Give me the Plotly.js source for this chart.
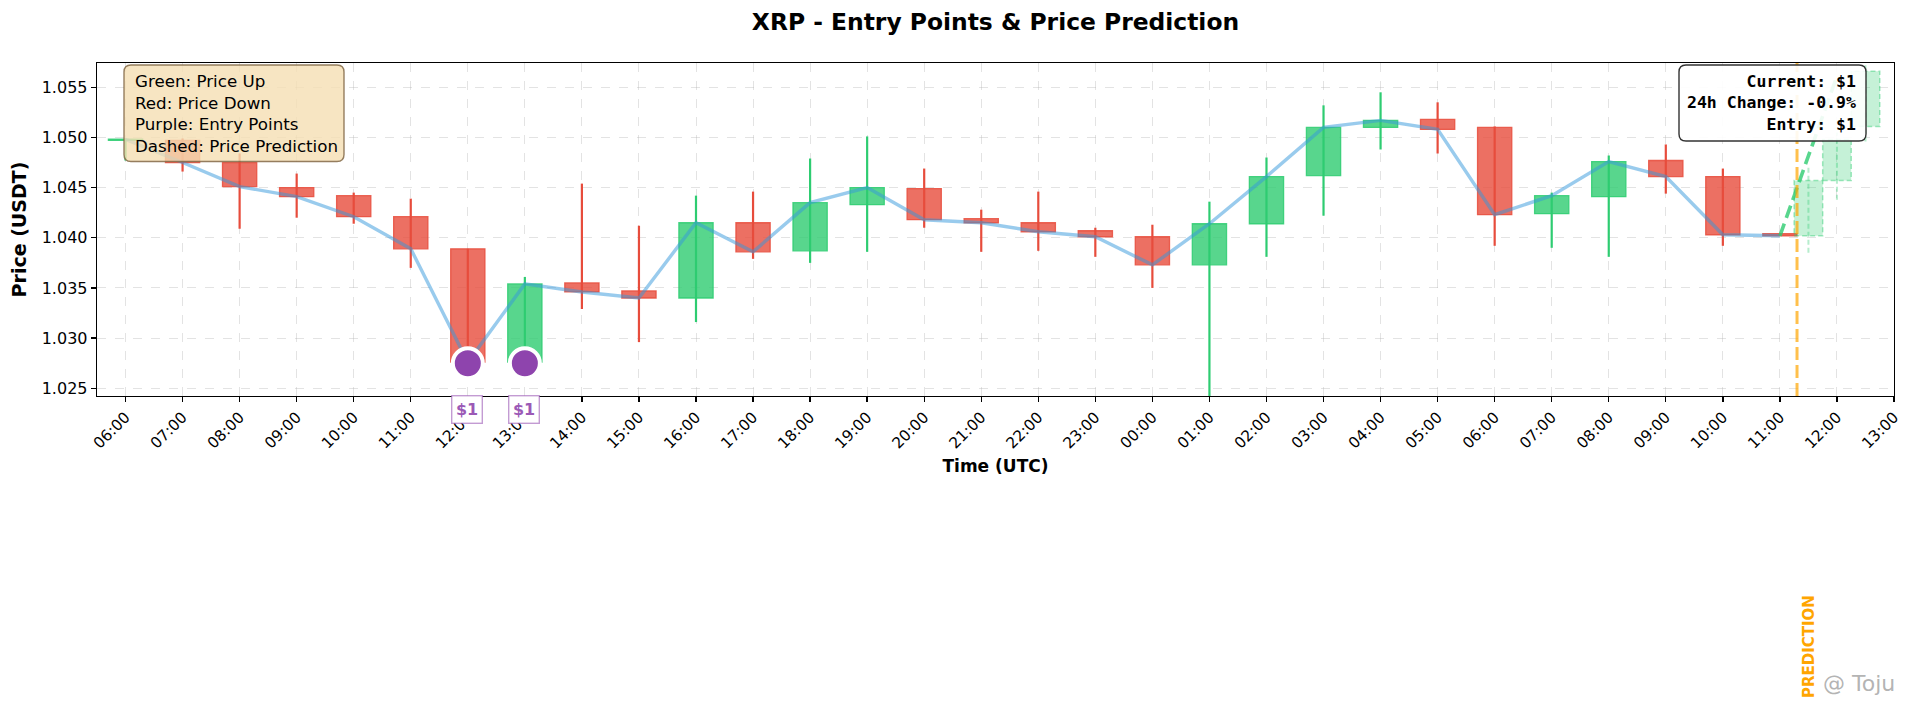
<!DOCTYPE html>
<html>
<head>
<meta charset="utf-8">
<script src="https://cdn.plot.ly/plotly-3.0.1.min.js"></script>
<style>
  html, body { margin: 0; padding: 0; background: #fff; }
  #chart { width: 1905px; height: 708px; }
</style>
</head>
<body>
<div id="chart"></div>
<script>
// hourly candles, 06:00 day 1 -> 11:00 day 2
var times = [
	'2024-01-01 06:00', '2024-01-01 07:00', '2024-01-01 08:00', '2024-01-01 09:00', '2024-01-01 10:00',
	'2024-01-01 11:00', '2024-01-01 12:00', '2024-01-01 13:00', '2024-01-01 14:00', '2024-01-01 15:00',
	'2024-01-01 16:00', '2024-01-01 17:00', '2024-01-01 18:00', '2024-01-01 19:00', '2024-01-01 20:00',
	'2024-01-01 21:00', '2024-01-01 22:00', '2024-01-01 23:00', '2024-01-02 00:00', '2024-01-02 01:00',
	'2024-01-02 02:00', '2024-01-02 03:00', '2024-01-02 04:00', '2024-01-02 05:00', '2024-01-02 06:00',
	'2024-01-02 07:00', '2024-01-02 08:00', '2024-01-02 09:00', '2024-01-02 10:00', '2024-01-02 11:00'
]
var opens  = [1.0497, 1.0497, 1.0475, 1.0450, 1.0442, 1.0421, 1.0389, 1.0276, 1.0355, 1.0347,
              1.0340, 1.0415, 1.0387, 1.0433, 1.0449, 1.0419, 1.0415, 1.0407, 1.0401, 1.0373,
              1.0414, 1.0462, 1.0510, 1.0518, 1.0510, 1.0424, 1.0441, 1.0477, 1.0461, 1.0404]
var highs  = [1.0499, 1.0499, 1.0484, 1.0464, 1.0445, 1.0439, 1.0389, 1.0361, 1.0454, 1.0412,
              1.0442, 1.0446, 1.0479, 1.0501, 1.0469, 1.0428, 1.0446, 1.0410, 1.0413, 1.0436,
              1.0480, 1.0532, 1.0545, 1.0535, 1.0511, 1.0445, 1.0482, 1.0493, 1.0469, 1.0404]
var lows   = [1.0477, 1.0466, 1.0409, 1.0420, 1.0414, 1.0370, 1.0275, 1.0275, 1.0329, 1.0296,
              1.0316, 1.0379, 1.0375, 1.0386, 1.0410, 1.0386, 1.0387, 1.0381, 1.0350, 1.0238,
              1.0381, 1.0422, 1.0488, 1.0484, 1.0392, 1.0390, 1.0381, 1.0444, 1.0392, 1.0402]
var closes = [1.0498, 1.0475, 1.0451, 1.0441, 1.0421, 1.0389, 1.0276, 1.0354, 1.0346, 1.0340,
              1.0415, 1.0386, 1.0435, 1.0450, 1.0418, 1.0415, 1.0406, 1.0401, 1.0373, 1.0414,
              1.0461, 1.0510, 1.0517, 1.0508, 1.0423, 1.0442, 1.0476, 1.0461, 1.0403, 1.0402]

// entry points
var entryTimes  = ['2024-01-01 12:00', '2024-01-01 13:00']
var entryPrices = [1.0275, 1.0275]
var entryLabels = ['$1', '$1']

// prediction (30 min candles + dashed path)
var predTimes  = ['2024-01-02 11:30', '2024-01-02 12:00', '2024-01-02 12:30']
var predOpens  = [1.0402, 1.0457, 1.0511]
var predHighs  = [1.0472, 1.0505, 1.0572]
var predLows   = [1.0385, 1.0438, 1.0496]
var predCloses = [1.0457, 1.0498, 1.0566]
var predLineTimes  = ['2024-01-02 11:00', '2024-01-02 11:20', '2024-01-02 11:40', '2024-01-02 12:00']
var predLineValues = [1.0402, 1.0455, 1.0508, 1.0561]
var nowTime = '2024-01-02 11:18'

var GREEN = '#2ECC71', RED = '#E74C3C', PURPLE = '#8E44AD'
var HOUR = 3600000
var FONT = 'DejaVu Sans, sans-serif'

// plot area in px, used to lay out the two rounded text boxes
var plotL = 97, plotT = 63, plotW = 1797, plotH = 333

function ms(t){ return new Date(t.replace(' ', 'T') + ':00Z').getTime() }
function iso(v){ return new Date(v).toISOString().replace('T', ' ').slice(0, 19) }
function px(x){ return (x - plotL) / plotW }
function py(y){ return (plotT + plotH - y) / plotH }

// rounded rectangle path in paper coords, from pixel box
function roundBox(x0, y0, x1, y1, r){
	var rx = r / plotW, ry = r / plotH
	var L = px(x0), R = px(x1), T = py(y0), B = py(y1)
	return 'M' + (L + rx) + ',' + T +
		' L' + (R - rx) + ',' + T + ' Q' + R + ',' + T + ' ' + R + ',' + (T - ry) +
		' L' + R + ',' + (B + ry) + ' Q' + R + ',' + B + ' ' + (R - rx) + ',' + B +
		' L' + (L + rx) + ',' + B + ' Q' + L + ',' + B + ' ' + L + ',' + (B + ry) +
		' L' + L + ',' + (T - ry) + ' Q' + L + ',' + T + ' ' + (L + rx) + ',' + T + ' Z'
}

// candle bodies
var up = opens.map((o,i) => closes[i] >= o)
var bodies = {
	type: 'bar',
	x: times,
	base: opens.map((o,i) => Math.min(o, closes[i])),
	y: opens.map((o,i) => Math.max(Math.abs(closes[i] - o), 0.00012)),
	width: 0.6 * HOUR,
	marker: {
		color: up.map(u => u ? 'rgba(46,204,113,0.8)' : 'rgba(231,76,60,0.8)'),
		line: {color: up.map(u => u ? 'rgba(46,204,113,0.85)' : 'rgba(231,76,60,0.85)'), width: 1.3}
	},
	hoverinfo: 'skip'
}

// wicks, one trace per colour
function wicks(isUp, color){
	var x = [], y = []
	times.forEach((t,i) => {
		if (up[i] !== isUp) return
		x.push(t, t, null); y.push(lows[i], highs[i], null)
	})
	return {x: x, y: y, mode: 'lines', line: {color: color, width: 2.2}, hoverinfo: 'skip', connectgaps: false}
}

var closeLine = {
	x: times, y: closes, mode: 'lines',
	line: {color: 'rgba(52,152,219,0.5)', width: 3.4},
	hoverinfo: 'skip'
}

// prediction candles: dashed outline boxes built from the open/close values
var pbx = [], pby = [], pwx = [], pwy = []
predTimes.forEach((t,i) => {
	var c = ms(t), w = 0.25 * HOUR
	var l = iso(c - w), r = iso(c + w)
	pbx.push(l, r, r, l, l, null)
	pby.push(predOpens[i], predOpens[i], predCloses[i], predCloses[i], predOpens[i], null)
	pwx.push(t, t, null); pwy.push(predLows[i], predHighs[i], null)
})
var predWicks = {
	x: pwx, y: pwy, mode: 'lines',
	line: {color: 'rgba(46,204,113,0.35)', width: 2, dash: '5px,3px'},
	hoverinfo: 'skip'
}
var predBodies = {
	x: pbx, y: pby, mode: 'lines', fill: 'toself',
	fillcolor: 'rgba(46,204,113,0.28)',
	line: {color: 'rgba(46,204,113,0.45)', width: 1.5, dash: '5px,3px'},
	hoverinfo: 'skip'
}
var predLine = {
	x: predLineTimes, y: predLineValues, mode: 'lines',
	line: {color: 'rgba(46,204,113,0.8)', width: 3.6, dash: '13px,6px'},
	hoverinfo: 'skip'
}

var entries = {
	x: entryTimes, y: entryPrices, mode: 'markers',
	marker: {size: 30, color: PURPLE, line: {color: 'white', width: 4}},
	hoverinfo: 'skip'
}

var annotations = [
	{
		text: 'Green: Price Up<br>Red: Price Down<br>Purple: Entry Points<br>Dashed: Price Prediction',
		xref: 'paper', yref: 'paper', x: px(133), y: py(113.5), xanchor: 'left', yanchor: 'middle',
		align: 'left', showarrow: false,
		font: {family: FONT, size: 16.7, color: '#000'}
	},
	{
		text: 'Current: $1<br>24h Change: -0.9%<br>Entry: $1',
		xref: 'paper', yref: 'paper', x: px(1858), y: py(103), xanchor: 'right', yanchor: 'middle',
		align: 'right', showarrow: false,
		font: {family: 'DejaVu Sans Mono, monospace', size: 16.5, color: '#000', weight: 'bold'}
	},
	{
		text: 'PREDICTION',
		xref: 'x', yref: 'paper', x: nowTime, y: -0.754, xanchor: 'left', yanchor: 'middle',
		xshift: 1, textangle: -90, showarrow: false,
		font: {family: FONT, size: 15, color: 'orange', weight: 'bold'}
	},
	{
		text: '@ Toju',
		xref: 'paper', yref: 'paper', x: 1.0017, y: -0.862, xanchor: 'right', yanchor: 'middle',
		showarrow: false,
		font: {family: FONT, size: 22, color: 'rgba(160,160,160,0.8)'}
	}
]
entryTimes.forEach((t,i) => annotations.push({
	text: entryLabels[i],
	x: t, y: entryPrices[i], xref: 'x', yref: 'y', yshift: -46, xshift: -1,
	showarrow: false,
	font: {family: FONT, size: 16, color: '#9B59B6', weight: 'bold'},
	bgcolor: 'white', bordercolor: 'rgba(155,89,182,0.6)', borderwidth: 1.4, borderpad: 3.5
}))

var layout = {
	width: 1905, height: 708,
	margin: {l: plotL, r: 1905 - plotL - plotW, t: plotT, b: 708 - plotT - plotH},
	paper_bgcolor: 'white', plot_bgcolor: 'white',
	showlegend: false,
	font: {family: FONT, color: '#000'},
	title: {
		text: 'XRP - Entry Points & Price Prediction',
		font: {family: FONT, size: 23.4, color: '#000', weight: 'bold'},
		x: 0.5, xref: 'paper', y: 0.969, yref: 'container', yanchor: 'middle'
	},
	xaxis: {
		type: 'date',
		range: ['2024-01-01 05:30', '2024-01-02 13:00'],
		dtick: HOUR, tick0: '2024-01-01 06:00', tickformat: '%H:%M', tickangle: -45,
		tickfont: {family: FONT, size: 15.3},
		ticks: 'outside', ticklen: 5, tickwidth: 1.3, tickcolor: '#000',
		showline: true, mirror: true, linecolor: '#000', linewidth: 1.3,
		showgrid: true, gridcolor: 'rgba(176,176,176,0.35)', griddash: 'dash', gridwidth: 1,
		zeroline: false, automargin: false,
		title: {text: 'Time (UTC)', font: {family: FONT, size: 17, weight: 'bold'}, standoff: 8}
	},
	yaxis: {
		range: [1.02423, 1.05742],
		dtick: 0.005, tick0: 1.025, tickformat: '.3f',
		tickfont: {family: FONT, size: 16},
		ticks: 'outside', ticklen: 5, tickwidth: 1.3, tickcolor: '#000',
		showline: true, mirror: true, linecolor: '#000', linewidth: 1.3,
		showgrid: true, gridcolor: 'rgba(176,176,176,0.35)', griddash: 'dash', gridwidth: 1,
		zeroline: false, automargin: false,
		title: {text: 'Price (USDT)', font: {family: FONT, size: 19, weight: 'bold'}, standoff: 10}
	},
	shapes: [
		{
			type: 'line', xref: 'x', yref: 'paper', x0: nowTime, x1: nowTime, y0: 0, y1: 1,
			line: {color: 'rgba(255,165,0,0.7)', width: 3, dash: '13px,5px'}
		},
		{
			type: 'path', xref: 'paper', yref: 'paper', path: roundBox(124, 65, 344, 161.5, 7),
			fillcolor: 'rgba(245,222,179,0.8)', line: {color: 'rgba(130,105,70,0.85)', width: 1.4}
		},
		{
			type: 'path', xref: 'paper', yref: 'paper', path: roundBox(1679, 65, 1866, 141, 7),
			fillcolor: 'rgba(255,255,255,0.9)', line: {color: '#333', width: 1.4}
		}
	],
	annotations: annotations
}

Plotly.newPlot('chart',
	[bodies, wicks(true, GREEN), wicks(false, RED), closeLine, predBodies, predWicks, predLine, entries],
	layout, {displayModeBar: false, staticPlot: true})
</script>
</body>
</html>
